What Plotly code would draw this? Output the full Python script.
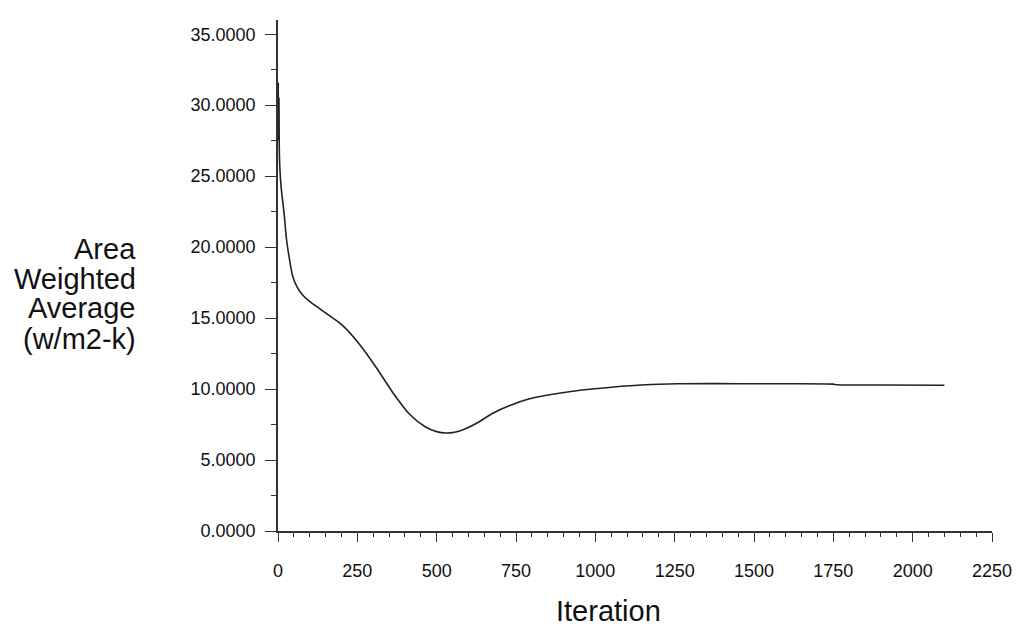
import plotly.graph_objects as go

iterations = [0, 1, 2, 3, 4, 6, 10, 15, 20, 27, 35, 47, 60, 75, 90, 110, 135, 162, 204,
              256, 309, 361, 413, 465, 500, 528, 560, 591, 633, 674, 737, 790, 842, 946,
              1051, 1156, 1260, 1385, 1500, 1750, 1760, 1900, 2100]
values = [28.0, 31.6, 27.5, 30.5, 27.0, 25.5, 24.2, 23.2, 22.2, 20.5, 19.3, 17.9, 17.2,
          16.7, 16.35, 16.0, 15.6, 15.17, 14.47, 13.18, 11.54, 9.78, 8.26, 7.33, 7.0,
          6.9, 6.98, 7.21, 7.68, 8.26, 8.9, 9.3, 9.55, 9.9, 10.13, 10.3, 10.37, 10.38,
          10.37, 10.35, 10.3, 10.29, 10.27]

y_title_lines = ["Area", "Weighted", "Average", "(w/m2-k)"]
x_title = "Iteration"

FONT = "Liberation Sans, Arial, sans-serif"

fig = go.Figure()
fig.add_trace(go.Scatter(x=iterations, y=values, mode="lines",
                         line=dict(color="#222222", width=1.6, shape="spline", smoothing=0.8),
                         showlegend=False, hoverinfo="skip"))

axis_common = dict(
    showgrid=False, zeroline=False, showline=True, linecolor="#333333", linewidth=1.5,
    ticks="outside", tickcolor="#333333", tickwidth=1.3,
    tickfont=dict(family=FONT, size=18, color="#111111"),
)

fig.update_xaxes(range=[0, 2250], tick0=0, dtick=250, ticklen=9,
                 minor=dict(dtick=50, ticks="outside", ticklen=4, tickcolor="#333333", tickwidth=1.2),
                 ticklabelstandoff=14, **axis_common)
fig.update_yaxes(range=[0, 36], tick0=0, dtick=5, ticklen=11, tickformat=".4f",
                 minor=dict(dtick=2.5, ticks="outside", ticklen=5, tickcolor="#333333", tickwidth=1.2),
                 ticklabelstandoff=6, **axis_common)

annotations = []
y_positions = [0.552, 0.493, 0.436, 0.376]
for txt, yp in zip(y_title_lines, y_positions):
    annotations.append(dict(text=txt, xref="paper", yref="paper", x=-0.196, y=yp,
                            xanchor="right", yanchor="middle", showarrow=False,
                            font=dict(family=FONT, size=29, color="#111111")))
annotations.append(dict(text=x_title, xref="paper", yref="paper", x=0.463, y=-0.1566,
                        xanchor="center", yanchor="middle", showarrow=False,
                        font=dict(family=FONT, size=29, color="#111111")))

fig.update_layout(width=1024, height=628, margin=dict(l=278, r=27, t=20, b=97),
                  plot_bgcolor="white", paper_bgcolor="white", annotations=annotations)

fig.write_html("out.html")
